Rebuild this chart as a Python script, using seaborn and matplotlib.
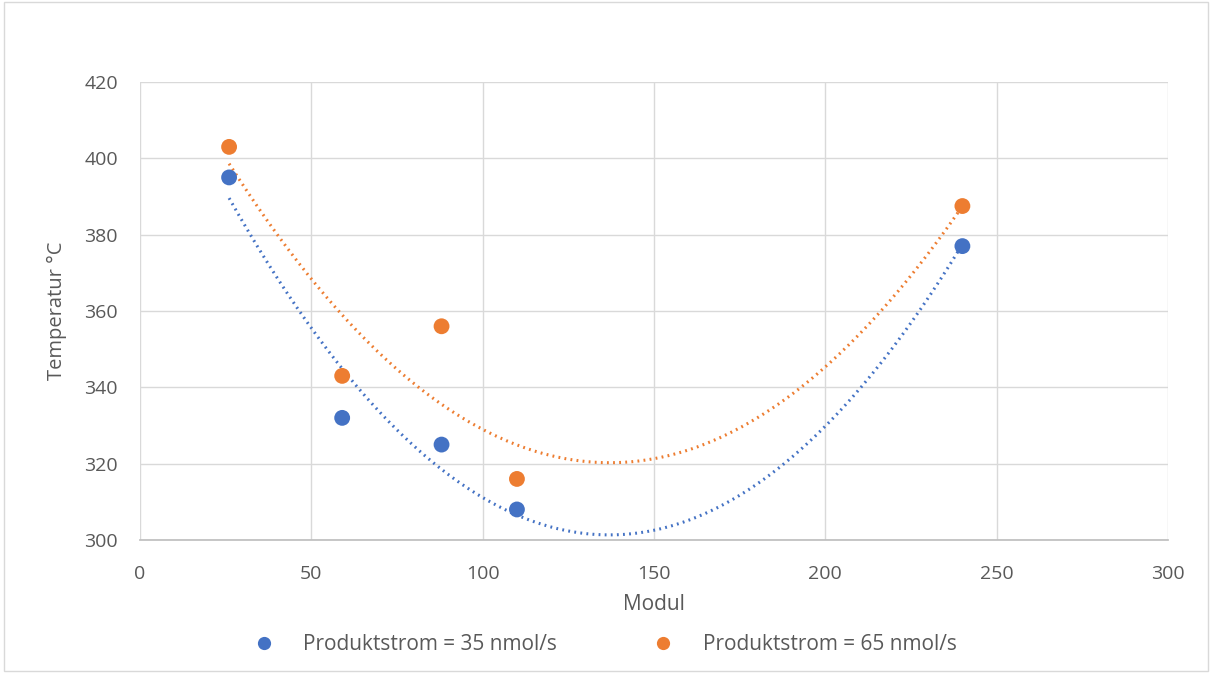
import numpy as np
import pandas as pd
import matplotlib
matplotlib.use("Agg")
import matplotlib.pyplot as plt
import seaborn as sns
from matplotlib.lines import Line2D
from matplotlib.patches import Rectangle

modul = [26, 59, 88, 110, 240]
temp_35 = [395, 332, 325, 308, 377]
temp_65 = [403, 343, 356, 316, 387.5]
labels = ["Produktstrom = 35 nmol/s", "Produktstrom = 65 nmol/s"]
colors = ["#4472C4", "#ED7D31"]

sns.set_theme(style="white")
plt.rcParams['font.family'] = ['Open Sans', 'DejaVu Sans']

df = pd.DataFrame({
    "Modul": modul * 2,
    "Temperatur": temp_35 + temp_65,
    "Serie": [labels[0]] * len(modul) + [labels[1]] * len(modul),
})

fig = plt.figure(figsize=(12.12, 6.73), dpi=100)
ax = fig.add_axes([140/1212, 1-540/673, 1028/1212, 458/673])

# trendlines (polynomial order 2)
xs = np.linspace(min(modul), max(modul), 300)
for ys, c in zip([temp_35, temp_65], colors):
    p = np.polyfit(modul, ys, 2)
    ax.plot(xs, np.polyval(p, xs), color=c, lw=2.2, linestyle=(0, (0.6, 1.4)), zorder=2)

sns.scatterplot(data=df, x="Modul", y="Temperatur", hue="Serie", palette=colors,
                s=130, edgecolor="none", ax=ax, legend=False, zorder=3)

ax.set_xlim(0, 300)
ax.set_ylim(300, 420)
ax.set_xticks(range(0, 301, 50))
ax.set_yticks(range(300, 421, 20))
ax.grid(True, color="#d9d9d9", lw=1)
ax.set_axisbelow(True)
for s in ["top", "right", "left"]:
    ax.spines[s].set_visible(False)
ax.spines["bottom"].set_color("#bfbfbf")
ax.tick_params(axis="both", length=0, labelsize=14, labelcolor="#595959")
ax.tick_params(axis="y", pad=16)
ax.tick_params(axis="x", pad=18)
ax.set_xlabel("Modul", fontsize=15, color="#595959", labelpad=8)
ax.set_ylabel("Temperatur °C", fontsize=14.5, color="#595959", labelpad=12)

handles = [Line2D([0], [0], marker="o", color="none", markerfacecolor=c,
                  markeredgecolor="none", markersize=9.5) for c in colors]
fig.legend(handles, labels, loc="center", bbox_to_anchor=(0.495, 1-645/673), ncol=2,
           frameon=False, fontsize=15, labelcolor="#595959", columnspacing=4.1,
           handletextpad=0.9, handlelength=2.0)

fig.patches.append(Rectangle((0.003, 0.003), 0.994, 0.994, transform=fig.transFigure,
                             fill=False, edgecolor="#d9d9d9", lw=1))

fig.savefig("out.png", dpi=100)
